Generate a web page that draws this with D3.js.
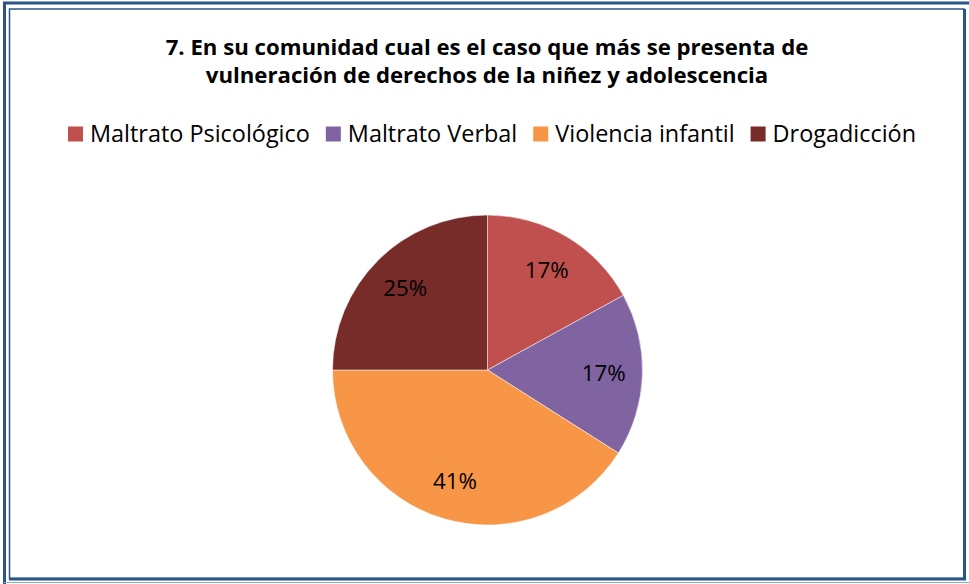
<!DOCTYPE html>
<html>
<head>
<meta charset="utf-8">
<script src="https://cdn.jsdelivr.net/npm/d3@7"></script>
<style>
  html, body { margin: 0; padding: 0; background: #fff; }
  svg { display: block; }
</style>
</head>
<body>
<div id="chart"></div>
<script>
// Data
const categories = ["Maltrato Psicológico", "Maltrato Verbal", "Violencia infantil", "Drogadicción"];
const values = [17, 17, 41, 25];
const colors = ["#C0504D", "#8064A2", "#F79646", "#772C2A"];
const titleLines = [
  "7. En su comunidad cual es el caso que más se presenta de",
  "vulneración de derechos de la niñez y adolescencia"
];

const width = 969;
const height = 584;
const font = "'Open Sans', 'Noto Sans', sans-serif";
const borderColor = "#2B5489";

const svg = d3.select("#chart")
  .append("svg")
  .attr("width", width)
  .attr("height", height);

// scale a text selection's font so that its first node is `target` px wide
function fitSize(sel, target) {
  const w = sel.node().getComputedTextLength();
  const size = parseFloat(sel.style("font-size")) * target / w;
  sel.style("font-size", size + "px");
  return size;
}

// Frame: outer line (cropped at right/bottom) and inner box with heavier right/bottom edge
svg.append("path")
  .attr("d", `M4.5,${height} V3 H${width}`)
  .style("fill", "none")
  .style("stroke", borderColor)
  .style("stroke-width", 3);
svg.append("rect")
  .attr("x", 9.5).attr("y", 9)
  .attr("width", 954.5).attr("height", 569.5)
  .style("fill", "none")
  .style("stroke", borderColor)
  .style("stroke-width", 1.5);
svg.append("path")
  .attr("d", `M964.5,9 V579 H9`)
  .style("fill", "none")
  .style("stroke", borderColor)
  .style("stroke-width", 3);
svg.append("line")
  .attr("x1", 4).attr("x2", width)
  .attr("y1", 582.5).attr("y2", 582.5)
  .style("stroke", "#8FA9CC")
  .style("stroke-width", 1);

// Title
const title = svg.append("g")
  .selectAll("text")
  .data(titleLines)
  .enter()
  .append("text")
  .attr("x", 487)
  .attr("y", (d, i) => 55 + i * 28)
  .attr("text-anchor", "middle")
  .style("font-family", font)
  .style("font-weight", "bold")
  .style("font-size", "20px")
  .style("fill", "#000")
  .text(d => d);
const titleSize = fitSize(title, 643);
title.style("font-size", titleSize + "px");

// Legend, laid out from measured text widths and centred
const legendY = 134;
const box = 15;
const gap = 16;
const legend = svg.append("g");
const items = legend.selectAll("g")
  .data(categories)
  .enter()
  .append("g");
items.append("rect")
  .attr("width", box)
  .attr("height", box)
  .attr("y", legendY - box / 2)
  .style("fill", (d, i) => colors[i]);
const legendText = items.append("text")
  .attr("x", box + 7)
  .attr("y", legendY)
  .attr("dy", "0.35em")
  .style("font-family", font)
  .style("font-size", "20px")
  .style("fill", "#000")
  .text(d => d);
const legendSize = fitSize(legendText, 220);
legendText.style("font-size", legendSize + "px");
let cursor = 0;
const offsets = [];
items.each(function () {
  const w = d3.select(this).select("text").node().getComputedTextLength();
  offsets.push(cursor);
  cursor += box + 7 + w + gap;
});
const total = cursor - gap;
const startX = 492 - total / 2;
items.attr("transform", (d, i) => `translate(${startX + offsets[i]},0)`);

// Pie
const cx = 487.5, cy = 370, radius = 155;
const pie = d3.pie().sort(null).value(d => d);
const arc = d3.arc().innerRadius(0).outerRadius(radius);
const labelArc = d3.arc().innerRadius(radius * 0.75).outerRadius(radius * 0.75);

const g = svg.append("g").attr("transform", `translate(${cx},${cy})`);
const arcs = pie(values);

g.selectAll(".slice")
  .data(arcs)
  .enter()
  .append("path")
  .attr("class", "slice")
  .attr("d", arc)
  .style("fill", (d, i) => colors[i])
  .style("stroke", "#fff")
  .style("stroke-width", 0.5);

const pct = g.selectAll(".pct")
  .data(arcs)
  .enter()
  .append("text")
  .attr("class", "pct")
  .attr("transform", d => `translate(${labelArc.centroid(d)})`)
  .attr("text-anchor", "middle")
  .attr("dy", "0.35em")
  .style("font-family", font)
  .style("font-size", "20px")
  .style("fill", "#000")
  .text(d => d.data + "%");
const pctSize = fitSize(pct, 44);
pct.style("font-size", pctSize + "px");
</script>
</body>
</html>
